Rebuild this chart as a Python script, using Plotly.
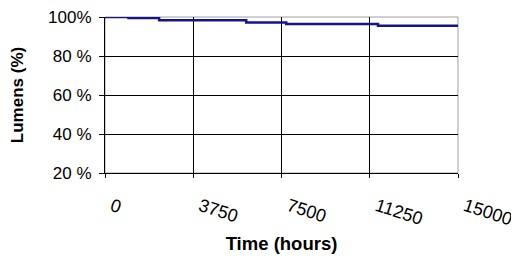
import plotly.graph_objects as go

hours = [0, 1000, 2300, 6000, 7700, 11600, 15000]
lumens = [100, 99.5, 98.3, 97.2, 96.4, 95.5, 95.5]
x_ticks = [0, 3750, 7500, 11250, 15000]
x_tick_labels = ["0", "3750", "7500", "11250", "15000"]
y_ticks = [20, 40, 60, 80, 100]
y_tick_labels = ["20 %", "40 %", "60 %", "80 %", "100%"]

fig = go.Figure()
fig.add_trace(go.Scatter(x=hours, y=lumens, mode="lines", line_shape="hv",
                         line=dict(color="#14148c", width=2.5), showlegend=False))

fig.update_layout(
    width=519, height=265,
    margin=dict(l=97, r=69, t=9, b=100),
    paper_bgcolor="white", plot_bgcolor="white",
    font=dict(family="Liberation Sans, Arial", color="black", size=14),
    shapes=[dict(type="rect", xref="paper", yref="paper", x0=0, x1=1, y0=0, y1=1,
                 line=dict(color="#a0a0a0", width=1), layer="below")],
)
fig.update_xaxes(range=[0, 15000], tickvals=x_ticks, ticktext=x_tick_labels,
                 tickangle=18, showgrid=True, gridcolor="black", gridwidth=1,
                 showline=True, linecolor="black", linewidth=1,
                 ticks="outside", ticklen=4, tickcolor="black",
                 tickfont=dict(size=18), ticklabelstandoff=11, ticklabelshift=7,
                 ticklabeloverflow="allow",
                 automargin=False,
                 title=dict(text="<b>Time (hours)</b>", font=dict(size=18.5), standoff=8),
                 zeroline=False)
fig.update_yaxes(range=[20, 100], tickvals=y_ticks, ticktext=y_tick_labels,
                 showgrid=True, gridcolor="black", gridwidth=1,
                 showline=True, linecolor="black", linewidth=1,
                 ticks="outside", ticklen=5, tickcolor="black",
                 tickfont=dict(size=17), ticklabelstandoff=4,
                 ticklabeloverflow="allow",
                 automargin=False,
                 title=dict(text="<b>Lumens (%)</b>", font=dict(size=17), standoff=20),
                 zeroline=False)

fig.write_html("out.html")
